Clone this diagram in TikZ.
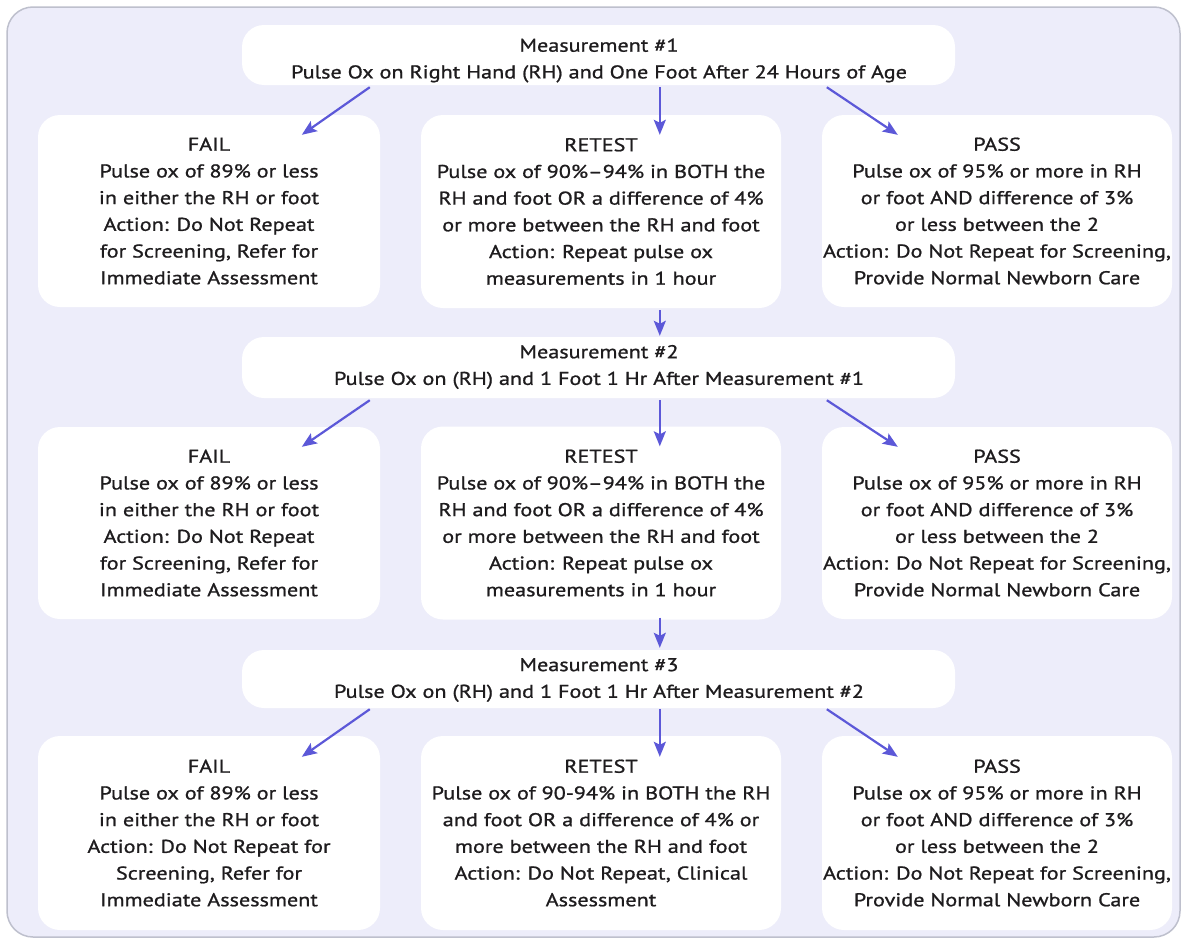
\documentclass[tikz,border=0pt]{standalone}
\usepackage{fontspec}
\setmainfont{PT Sans}[FakeStretch=1.2, FakeBold=1.0]
\usetikzlibrary{arrows.meta,calc}
\definecolor{bgc}{RGB}{237,237,250}
\definecolor{brd}{RGB}{190,192,205}
\definecolor{arrc}{RGB}{92,88,216}
\definecolor{txt}{RGB}{30,28,30}
\begin{document}
\begin{tikzpicture}[x=1pt,y=-1pt,
  box/.style={rectangle, fill=white, rounded corners=22pt, inner sep=0pt, align=center, text=txt, font=\fontsize{18.5}{26.7}\selectfont},
  lbl/.style={align=center, text=txt, font=\fontsize{18.5}{26.7}\selectfont, inner sep=0pt},
  arr/.style={draw=arrc, line width=2.2pt, -{Stealth[length=15pt,width=12pt,inset=3pt]}}]
\useasboundingbox (0,0) rectangle (1184,945);
\fill[white] (0,0) rectangle (1184,945);
\draw[fill=bgc, draw=brd, line width=1.5pt, rounded corners=26pt] (7,7) rectangle (1180,937);

% measurement boxes
\node[box, minimum width=713, minimum height=60] (m1) at (598.5,55) {};
\node[lbl] (m1t) at (599,60.5) {Measurement \#1\\Pulse Ox on Right Hand (RH) and One Foot After 24 Hours of Age};
\node[box, minimum width=713, minimum height=61] (m2) at (598.5,367.5) {};
\node[lbl] (m2t) at (599,367) {Measurement \#2\\Pulse Ox on (RH) and 1 Foot 1 Hr After Measurement \#1};
\node[box, minimum width=713, minimum height=58] (m3) at (598.5,679) {};
\node[lbl] (m3t) at (599,680) {Measurement \#3\\Pulse Ox on (RH) and 1 Foot 1 Hr After Measurement \#2};

% row 1
\node[box, minimum width=342, minimum height=192] (f1) at (209,211) {FAIL\\Pulse ox of 89\% or less\\in either the RH or foot\\Action: Do Not Repeat\\for Screening, Refer for\\Immediate Assessment};
\node[box, minimum width=360, minimum height=193] (r1) at (601,211.5) {RETEST\\Pulse ox of 90\%--94\% in BOTH the\\RH and foot OR a difference of 4\%\\or more between the RH and foot\\Action: Repeat pulse ox\\measurements in 1 hour};
\node[box, minimum width=350, minimum height=192] (p1) at (997,211) {PASS\\Pulse ox of 95\% or more in RH\\or foot AND difference of 3\%\\or less between the 2\\Action: Do Not Repeat for Screening,\\Provide Normal Newborn Care};

% row 2
\node[box, minimum width=342, minimum height=192] (f2) at (209,523) {FAIL\\Pulse ox of 89\% or less\\in either the RH or foot\\Action: Do Not Repeat\\for Screening, Refer for\\Immediate Assessment};
\node[box, minimum width=360, minimum height=193] (r2) at (601,523) {RETEST\\Pulse ox of 90\%--94\% in BOTH the\\RH and foot OR a difference of 4\%\\or more between the RH and foot\\Action: Repeat pulse ox\\measurements in 1 hour};
\node[box, minimum width=350, minimum height=192] (p2) at (997,523) {PASS\\Pulse ox of 95\% or more in RH\\or foot AND difference of 3\%\\or less between the 2\\Action: Do Not Repeat for Screening,\\Provide Normal Newborn Care};

% row 3
\node[box, minimum width=342, minimum height=194] (f3) at (209,833) {FAIL\\Pulse ox of 89\% or less\\in either the RH or foot\\Action: Do Not Repeat for\\Screening, Refer for\\Immediate Assessment};
\node[box, minimum width=360, minimum height=194] (r3) at (601,833) {RETEST\\Pulse ox of 90-94\% in BOTH the RH\\and foot OR a difference of 4\% or\\more between the RH and foot\\Action: Do Not Repeat, Clinical\\Assessment};
\node[box, minimum width=350, minimum height=194] (p3) at (997,833) {PASS\\Pulse ox of 95\% or more in RH\\or foot AND difference of 3\%\\or less between the 2\\Action: Do Not Repeat for Screening,\\Provide Normal Newborn Care};

% arrows row 1
\draw[arr] ($(m1.south west)+(128,2)$) -- ($(f1.north west)+(264,20)$);
\draw[arr] ($(m1.south west)+(418,2)$) -- ($(r1.north west)+(239,20)$);
\draw[arr] ($(m1.south west)+(585,2)$) -- ($(p1.north west)+(76,20)$);
\draw[arr] ($(r1.south west)+(239,2)$) -- ($(m2.north west)+(418,-1)$);
% arrows row 2
\draw[arr] ($(m2.south west)+(128,2)$) -- ($(f2.north west)+(264,20)$);
\draw[arr] ($(m2.south west)+(418,2)$) -- ($(r2.north west)+(239,20)$);
\draw[arr] ($(m2.south west)+(585,2)$) -- ($(p2.north west)+(76,20)$);
\draw[arr] ($(r2.south west)+(239,-2)$) -- ($(m3.north west)+(418,-2)$);
% arrows row 3
\draw[arr] ($(m3.south west)+(128,1)$) -- ($(f3.north west)+(264,21)$);
\draw[arr] ($(m3.south west)+(418,1)$) -- ($(r3.north west)+(239,21)$);
\draw[arr] ($(m3.south west)+(585,1)$) -- ($(p3.north west)+(76,21)$);
\end{tikzpicture}
\end{document}
